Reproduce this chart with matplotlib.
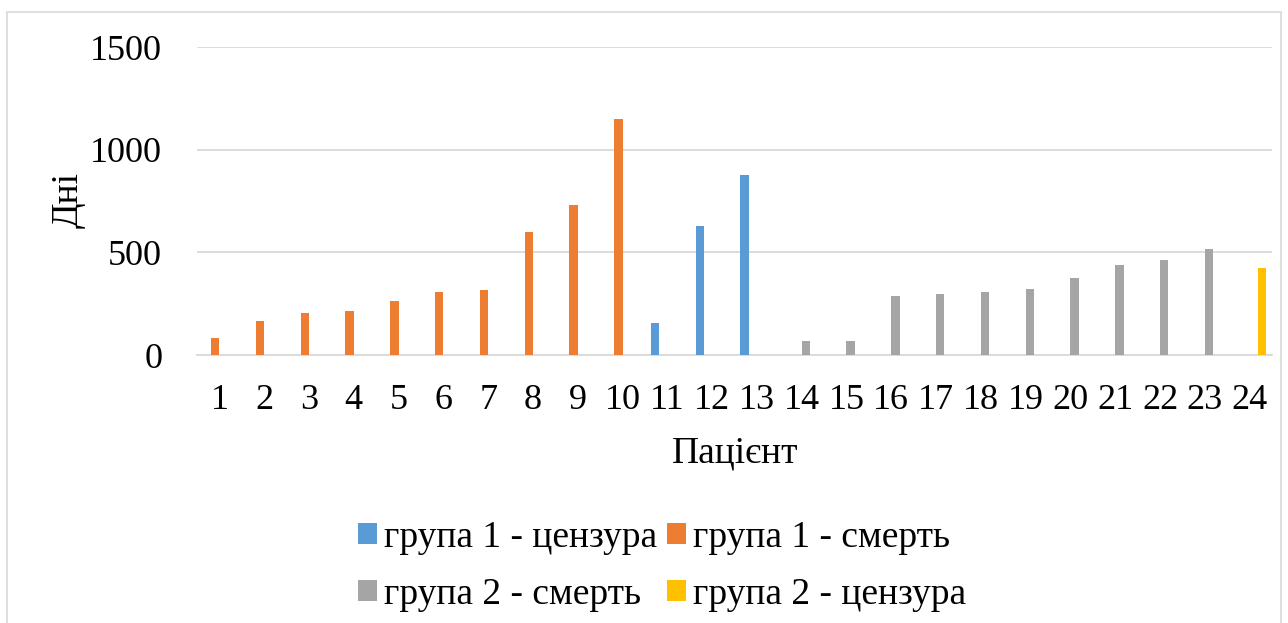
import matplotlib.pyplot as plt
from matplotlib.patches import Patch, Rectangle

# patient numbers and days per series
patients = [str(i) for i in range(1, 25)]

g1_cens_patients = [11, 12, 13]
g1_cens_days = [156, 628, 878]

g1_death_patients = [1, 2, 3, 4, 5, 6, 7, 8, 9, 10]
g1_death_days = [84, 164, 203, 216, 261, 305, 318, 600, 729, 1151]

g2_death_patients = [14, 15, 16, 17, 18, 19, 20, 21, 22, 23]
g2_death_days = [66, 70, 286, 296, 307, 320, 377, 438, 463, 516]

g2_cens_patients = [24]
g2_cens_days = [422]

series_labels = ['група 1 - цензура', 'група 1 - смерть', 'група 2 - смерть', 'група 2 - цензура']
colors = ['#5B9BD5', '#ED7D31', '#A5A5A5', '#FFC000']

plt.rcParams['font.family'] = ['Liberation Serif', 'DejaVu Serif']

W, H = 1288, 623
fig = plt.figure(figsize=(W / 100, H / 100), dpi=100)

# chart area border (Excel style)
fig.patches.append(Rectangle((7 / W, -0.01), (1281 - 7) / W, (H - 12 + 6) / H,
                             transform=fig.transFigure, fill=False,
                             edgecolor='#D9D9D9', linewidth=1.2))

ax = fig.add_axes([197 / W, (H - 355) / H, (1272 - 197) / W, (355 - 47) / H])

width = 0.185
data = [
    (g1_cens_patients, g1_cens_days),
    (g1_death_patients, g1_death_days),
    (g2_death_patients, g2_death_days),
    (g2_cens_patients, g2_cens_days),
]
for k, (pts, days) in enumerate(data):
    offset = (k - 1.5) * width
    xs = [p - 1 + offset for p in pts]
    ax.bar(xs, days, width=width, color=colors[k], zorder=3)

ax.set_xlim(-0.5, len(patients) - 0.5)
ax.set_ylim(0, 1500)
ax.set_yticks([0, 500, 1000, 1500])
ax.set_xticks(range(len(patients)))
ax.set_xticklabels(patients)

ax.grid(axis='y', color='#D9D9D9', linewidth=1.3, zorder=0)
for side in ['top', 'right', 'left']:
    ax.spines[side].set_visible(False)
ax.spines['bottom'].set_color('#D9D9D9')
ax.spines['bottom'].set_linewidth(1.3)
ax.tick_params(axis='both', length=0, labelsize=26)
ax.tick_params(axis='y', pad=25)
ax.tick_params(axis='x', pad=21)

fig.text(68 / W, 1 - 200 / H, 'Дні', rotation=90, ha='center', va='center', fontsize=27)
fig.text(735 / W, 1 - 453 / H, 'Пацієнт', ha='center', va='center', fontsize=27)

# legend: row 1 blue/orange, row 2 gray/yellow (matplotlib fills by column)
order = [0, 2, 1, 3]
handles = [Patch(facecolor=colors[i], edgecolor='none', label=series_labels[i]) for i in order]
fig.legend(handles=handles, ncol=2, loc='center', bbox_to_anchor=(662 / W, 1 - 566 / H),
           frameon=False, fontsize=27, handlelength=0.5, handleheight=0.5,
           handletextpad=0.18, columnspacing=0.27, labelspacing=0.6, borderpad=0)

plt.savefig('out.png', dpi=100)
